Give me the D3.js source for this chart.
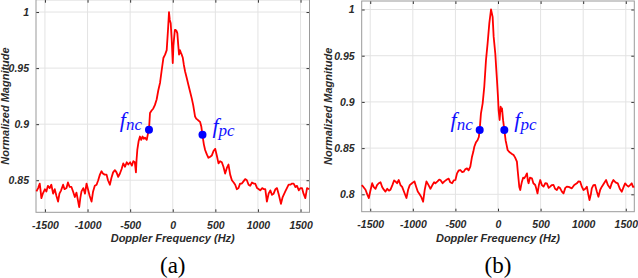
<!DOCTYPE html>
<html><head><meta charset="utf-8">
<script src="https://cdn.jsdelivr.net/npm/d3@7"></script>
<style>html,body{margin:0;padding:0;background:#fff;}svg{display:block;}</style>
</head><body>
<svg id="c" width="638" height="278"></svg>
<script>
// ---------- DATA ----------
const xTicks = [-1500, -1000, -500, 0, 500, 1000, 1500];
const yTicksA = [0.85, 0.9, 0.95, 1];
const yTicksB = [0.8, 0.85, 0.9, 0.95, 1];
const xLabel = "Doppler Frequency (Hz)";
const yLabel = "Normalized Magnitude";
const captions = ["(a)", "(b)"];

const freqA = [-1600,-1580,-1561,-1550,-1542,-1525,-1500,-1483,-1465,-1444,-1425,-1404,-1385,-1365,-1346,-1330,-1310,-1287,-1270,-1247,-1230,-1210,-1189,-1170,-1149,-1130,-1115,-1098,-1085,-1071,-1050,-1030,-1012,-995,-975,-953,-935,-915,-894,-875,-855,-836,-820,-800,-777,-760,-738,-720,-700,-679,-660,-640,-620,-600,-581,-560,-540,-522,-500,-480,-463,-445,-432,-425,-416,-400,-385,-370,-355,-340,-326,-305,-290,-279,-267,-250,-228,-210,-189,-170,-149,-130,-110,-90,-71,-55,-44,-35,-24,-12,0,8,15,25,35,45,54,65,74,84,94,105,117,130,145,165,184,200,223,240,262,275,290,305,321,335,349,365,380,400,419,440,458,478,498,517,537,555,576,595,615,635,654,674,694,715,733,752,772,790,811,830,850,870,890,909,930,950,968,990,1010,1027,1050,1070,1086,1105,1125,1145,1165,1184,1205,1223,1245,1270,1290,1321,1340,1360,1380,1400,1419,1440,1458,1480,1500,1517,1535,1556,1576,1600];
const magA = [0.840,0.843,0.847,0.840,0.834,0.838,0.842,0.840,0.845,0.843,0.846,0.838,0.842,0.836,0.831,0.838,0.841,0.846,0.842,0.843,0.848,0.844,0.844,0.840,0.835,0.839,0.833,0.826,0.834,0.840,0.843,0.838,0.847,0.842,0.836,0.831,0.840,0.845,0.846,0.850,0.855,0.858,0.856,0.855,0.855,0.850,0.846,0.852,0.857,0.859,0.857,0.853,0.856,0.860,0.865,0.862,0.866,0.864,0.866,0.863,0.867,0.866,0.857,0.868,0.877,0.885,0.889,0.886,0.889,0.887,0.888,0.886,0.892,0.895,0.910,0.912,0.914,0.917,0.922,0.930,0.937,0.948,0.959,0.962,0.966,0.985,1.000,0.993,0.990,0.975,0.9545,0.970,0.976,0.984,0.984,0.983,0.981,0.970,0.962,0.966,0.964,0.962,0.9595,0.953,0.947,0.941,0.935,0.930,0.923,0.917,0.9068,0.905,0.904,0.903,0.902,0.898,0.890,0.882,0.877,0.873,0.870,0.871,0.872,0.876,0.878,0.872,0.865,0.867,0.866,0.862,0.856,0.861,0.864,0.855,0.850,0.848,0.846,0.842,0.843,0.847,0.847,0.849,0.851,0.850,0.846,0.845,0.848,0.847,0.847,0.843,0.842,0.841,0.843,0.842,0.842,0.831,0.838,0.841,0.837,0.838,0.842,0.843,0.837,0.829,0.835,0.840,0.843,0.846,0.846,0.847,0.847,0.844,0.845,0.841,0.843,0.843,0.838,0.834,0.843,0.842];

const freqB = [-1600,-1580,-1555,-1535,-1516,-1500,-1477,-1460,-1438,-1420,-1400,-1379,-1360,-1340,-1321,-1300,-1280,-1262,-1240,-1220,-1204,-1185,-1165,-1145,-1125,-1100,-1075,-1055,-1036,-1010,-981,-960,-942,-920,-900,-879,-860,-840,-815,-793,-770,-750,-735,-710,-690,-676,-650,-629,-600,-579,-560,-539,-520,-500,-481,-460,-442,-420,-403,-385,-364,-345,-325,-305,-290,-278,-260,-239,-225,-215,-200,-180,-161,-141,-122,-102,-82,-63,-51,-32,-20,-12,0,7,19,31,40,47,60,74,90,97,113,130,144,160,183,200,222,232,242,250,261,272,281,295,308,325,340,350,359,375,398,415,437,450,464,480,496,515,535,555,574,595,613,630,652,670,691,710,730,750,769,790,808,830,867,895,926,945,965,985,1004,1025,1043,1060,1074,1090,1101,1120,1140,1160,1179,1200,1219,1245,1269,1290,1316,1335,1355,1380,1406,1430,1453,1475,1492,1510,1531,1550,1570,1585,1600];
const magB = [0.810,0.808,0.805,0.800,0.796,0.803,0.812,0.808,0.806,0.810,0.812,0.813,0.808,0.805,0.803,0.806,0.804,0.805,0.810,0.815,0.814,0.812,0.8155,0.810,0.808,0.802,0.796,0.805,0.810,0.812,0.814,0.808,0.803,0.800,0.797,0.792,0.805,0.814,0.810,0.806,0.810,0.813,0.812,0.814,0.816,0.8155,0.812,0.814,0.816,0.817,0.813,0.812,0.815,0.8155,0.8227,0.826,0.8263,0.824,0.8245,0.827,0.8281,0.826,0.830,0.8407,0.846,0.8515,0.856,0.8588,0.862,0.870,0.8877,0.8985,0.9165,0.9453,0.9634,0.985,1.000,0.992,0.9706,0.9526,0.935,0.9237,0.905,0.8912,0.8804,0.8948,0.890,0.893,0.880,0.870,0.858,0.8552,0.848,0.846,0.8451,0.844,0.8425,0.840,0.8353,0.825,0.8155,0.808,0.8047,0.810,0.8137,0.818,0.8173,0.820,0.8227,0.815,0.812,0.818,0.8173,0.812,0.8101,0.806,0.801,0.810,0.8155,0.810,0.8083,0.812,0.8119,0.807,0.8083,0.810,0.8101,0.806,0.8047,0.808,0.8065,0.803,0.801,0.807,0.8083,0.808,0.8065,0.810,0.8119,0.814,0.8137,0.808,0.8047,0.806,0.8083,0.800,0.7938,0.800,0.8065,0.810,0.8101,0.803,0.7974,0.805,0.8083,0.812,0.8155,0.810,0.8065,0.812,0.8155,0.813,0.8119,0.806,0.8028,0.808,0.8119,0.810,0.8083,0.810,0.8119,0.808,0.8083];

const markerFreqA = [-279, 349];
const markerMagA = [0.895, 0.8905];
const markerFreqB = [-215, 74];
const markerMagB = [0.8696, 0.8696];
const markerNames = [["f", "nc"], ["f", "pc"]];

// ---------- DRAW ----------
const svg = d3.select("#c");
const fmt = v => String(+v.toFixed(2));
const sans = "Liberation Sans, Arial, sans-serif";
const serif = "Liberation Serif, Times New Roman, serif";

function panel(cfg) {
  const x = d3.scaleLinear().domain(cfg.xd).range(cfg.xr);
  const y = d3.scaleLinear().domain(cfg.yd).range(cfg.yr);
  const g = svg.append("g");
  const [x0, x1] = cfg.xr, [y0, y1] = cfg.yr;

  // grid
  g.append("g").selectAll("line").data(xTicks).join("line")
    .attr("x1", d => x(d)).attr("x2", d => x(d)).attr("y1", y0).attr("y2", y1)
    .attr("stroke", "#e3e3e3").attr("stroke-width", 1);
  g.append("g").selectAll("line").data(cfg.yt).join("line")
    .attr("x1", x0).attr("x2", x1).attr("y1", d => y(d)).attr("y2", d => y(d))
    .attr("stroke", "#e3e3e3").attr("stroke-width", 1);

  // axes via d3 (inward ticks)
  const ax = g.append("g").attr("transform", `translate(0,${y0})`)
    .call(d3.axisBottom(x).tickValues(xTicks).tickSize(-3).tickPadding(9).tickFormat(d => d));
  const axT = g.append("g").attr("transform", `translate(0,${y1})`)
    .call(d3.axisTop(x).tickValues(xTicks).tickSize(-3).tickFormat(""));
  const ay = g.append("g").attr("transform", `translate(${x0},0)`)
    .call(d3.axisLeft(y).tickValues(cfg.yt).tickSize(-3).tickPadding(7).tickFormat(fmt));
  const ayR = g.append("g").attr("transform", `translate(${x1},0)`)
    .call(d3.axisRight(y).tickValues(cfg.yt).tickSize(-3).tickFormat(""));
  [ax, axT, ay, ayR].forEach(a => {
    a.select(".domain").remove();
    a.selectAll(".tick line").attr("stroke", "#333");
    a.selectAll("text").attr("font-family", sans)
      .attr("font-size", 10.5).attr("font-style", "italic").attr("font-weight", "bold")
      .attr("fill", "#2a2a2a");
  });

  // frame
  g.append("rect").attr("x", x0).attr("y", y1).attr("width", x1 - x0).attr("height", y0 - y1)
    .attr("fill", "none").attr("stroke", "#9a9a9a").attr("stroke-width", 1);

  // curve
  const pts = cfg.fx.map((f, i) => [f, cfg.fy[i]]);
  g.append("path").datum(pts)
    .attr("d", d3.line().x(d => x(d[0])).y(d => y(d[1])))
    .attr("fill", "none").attr("stroke", "#ff0000").attr("stroke-width", 1.8)
    .attr("stroke-linejoin", "round");

  // markers
  cfg.mx.forEach((f, i) => {
    g.append("circle").attr("cx", x(f)).attr("cy", y(cfg.my[i])).attr("r", 4).attr("fill", "#0000ff");
    const t = g.append("text").attr("x", x(f) + cfg.lo[i][0]).attr("y", y(cfg.my[i]) + cfg.lo[i][1])
      .attr("font-family", serif).attr("font-style", "italic")
      .attr("fill", "#1010ff").attr("text-anchor", i === 0 ? "end" : "start");
    t.append("tspan").attr("font-size", 22).text(markerNames[i][0]);
    t.append("tspan").attr("font-size", 17).attr("dy", 3).text(markerNames[i][1]);
  });

  // labels
  const cx = (x0 + x1) / 2;
  g.append("text").attr("x", cx).attr("y", 242).attr("text-anchor", "middle")
    .attr("font-family", sans).attr("font-size", 11)
    .attr("font-style", "italic").attr("font-weight", "bold").attr("fill", "#2a2a2a").text(xLabel);
  g.append("text").attr("transform", `translate(${cfg.ylx},${(y0 + y1) / 2}) rotate(-90)`)
    .attr("text-anchor", "middle")
    .attr("font-family", sans).attr("font-size", 11)
    .attr("font-style", "italic").attr("font-weight", "bold").attr("fill", "#2a2a2a").text(yLabel);
  g.append("text").attr("x", cx).attr("y", 273).attr("text-anchor", "middle")
    .attr("font-family", serif).attr("font-size", 23)
    .attr("fill", "#000").text(cfg.cap);
}

panel({xd: [-1605, 1605], xr: [36, 309.5], yd: [0.8214, 1.011], yr: [212.3, -0.3],
  yt: yTicksA, fx: freqA, fy: magA, mx: markerFreqA, my: markerMagA,
  lo: [[-7, -3], [10, -2]], ylx: 9, cap: captions[0]});
panel({xd: [-1600, 1600], xr: [361.7, 634.3], yd: [0.7812, 1.0092], yr: [211.7, 1],
  yt: yTicksB, fx: freqB, fy: magB, mx: markerFreqB, my: markerMagB,
  lo: [[-7, -3], [10, -3]], ylx: 332, cap: captions[1]});
</script>
</body></html>
